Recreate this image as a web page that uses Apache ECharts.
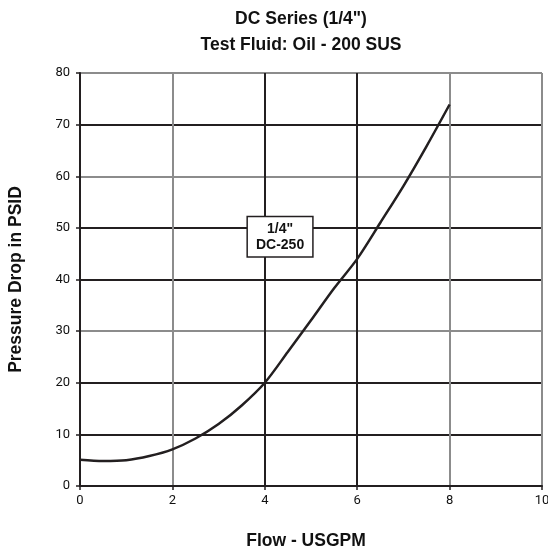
<!DOCTYPE html>
<html><head><meta charset="utf-8">
<script src="https://cdn.jsdelivr.net/npm/echarts@6/dist/echarts.min.js"></script>
<style>html,body{margin:0;padding:0;background:#fff}#c{width:548px;height:549px}</style>
</head><body><div id="c"></div>
<script>
const flow = [0, 0.5, 1.0, 1.5, 2.0, 2.5, 3.0, 3.5, 4.0, 4.5, 5.0, 5.5, 6.0, 6.5, 7.0, 7.5, 8.0];
const pressure = [5.1, 4.85, 5.0, 5.8, 7.1, 9.2, 12.0, 15.6, 20.0, 26.0, 32.1, 38.3, 44.0, 51.0, 58.1, 65.8, 73.9];
const labelPos = [4.33, 48.3];
const labelText = '1/4"\nDC-250';
const titleLines = ['DC Series (1/4")', 'Test Fluid: Oil - 200 SUS'];
const xName = 'Flow - USGPM';
const yName = 'Pressure Drop in PSID';

const dark = '#231f20', gray = '#8c8c8c';
const chart = echarts.init(document.getElementById('c'));
chart.setOption({
  animation: false,
  backgroundColor: '#fff',
  title: {
    text: titleLines.join('\n'),
    left: 296, top: 1, textAlign: 'center',
    textStyle: {fontFamily: 'Liberation Sans', fontWeight: 'bold', fontSize: 17.5, lineHeight: 26, color: '#111'}
  },
  grid: {left: 80, right: 6, top: 73, bottom: 63, outerBoundsMode: 'none', containLabel: false},
  xAxis: {
    type: 'value', min: 0, max: 10, interval: 2,
    name: xName, nameLocation: 'middle', nameGap: 46,
    nameTextStyle: {fontFamily: 'Liberation Sans', fontWeight: 'bold', fontSize: 17.5, color: '#111', padding: [0, 10, 0, 0]},
    axisLine: {lineStyle: {color: dark, width: 2}},
    axisTick: {show: true, length: 4, lineStyle: {color: dark, width: 1.5}},
    axisLabel: {fontFamily: 'Roboto', fontSize: 13, color: '#111', margin: 8},
    splitLine: {show: true, lineStyle: {width: 2, color: [dark, gray, dark, dark, gray, gray]}}
  },
  yAxis: {
    type: 'value', min: 0, max: 80, interval: 10,
    name: yName, nameLocation: 'middle', nameGap: 55, nameRotate: 90,
    nameTextStyle: {fontFamily: 'Liberation Sans', fontWeight: 'bold', fontSize: 17.5, color: '#111'},
    axisLine: {lineStyle: {color: dark, width: 2}},
    axisTick: {show: true, length: 4, lineStyle: {color: dark, width: 1.5}},
    axisLabel: {fontFamily: 'Roboto', fontSize: 13, color: '#111', margin: 10},
    splitLine: {show: true, lineStyle: {width: 2, color: [dark, dark, dark, gray, dark, dark, gray, dark, gray]}}
  },
  series: [
    {
      type: 'line', smooth: 0.3, showSymbol: false,
      data: flow.map((f, i) => [f, pressure[i]]),
      lineStyle: {color: dark, width: 2.5}, z: 5
    },
    {
      type: 'scatter', symbolSize: 1, z: 10,
      itemStyle: {opacity: 0},
      data: [labelPos],
      label: {
        show: true, position: 'inside', formatter: labelText, opacity: 1,
        fontFamily: 'Liberation Sans', fontWeight: 'bold', fontSize: 14, lineHeight: 16, color: '#111',
        backgroundColor: '#fff', borderColor: dark, borderWidth: 1.5,
        padding: [4, 8, 3, 8], align: 'center'
      }
    }
  ]
});
</script></body></html>
